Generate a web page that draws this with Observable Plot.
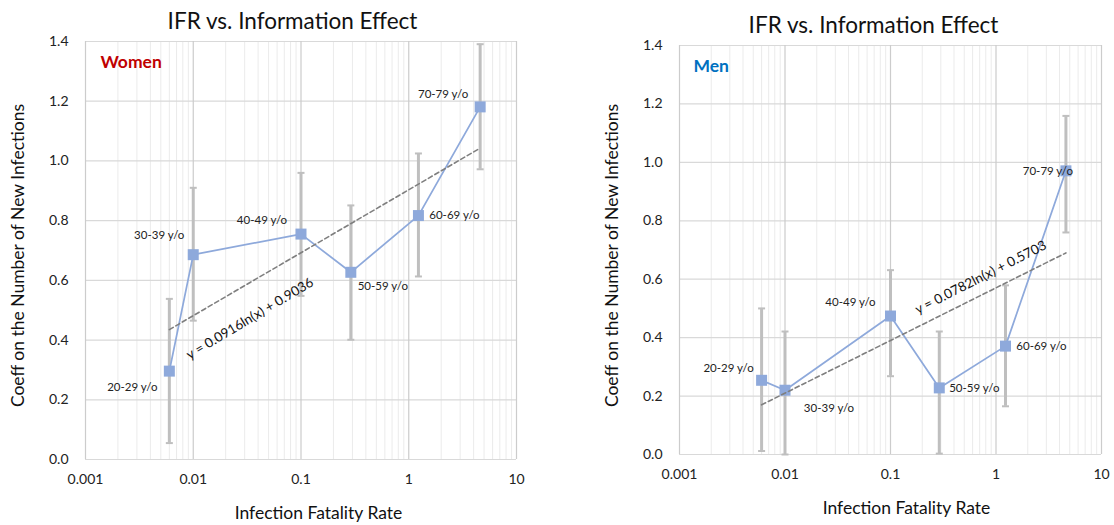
<!DOCTYPE html>
<html>
<head>
<meta charset="utf-8">
<script src="https://cdn.jsdelivr.net/npm/d3@7"></script>
<script src="https://cdn.jsdelivr.net/npm/@observablehq/plot@0.6"></script>
<style>
  body { margin: 0; background: #fff; }
  #wrap { display: flex; width: 1114px; height: 525px; }
  #wrap svg { display: block; }
</style>
</head>
<body>
<div id="wrap"></div>
<script>
// ---------- data ----------
const ageGroups = ["20-29 y/o", "30-39 y/o", "40-49 y/o", "50-59 y/o", "60-69 y/o", "70-79 y/o"];
const ifr = [0.006, 0.01, 0.1, 0.29, 1.23, 4.6];

const womenCoef = [0.296, 0.686, 0.755, 0.627, 0.817, 1.181];
const womenLow  = [0.055, 0.465, 0.548, 0.401, 0.613, 0.972];
const womenHigh = [0.538, 0.910, 0.960, 0.851, 1.025, 1.391];

const menCoef = [0.254, 0.220, 0.474, 0.228, 0.371, 0.971];
const menLow  = [0.012, 0.000, 0.268, 0.003, 0.165, 0.760];
const menHigh = [0.500, 0.421, 0.631, 0.421, 0.579, 1.159];

// trendline values at the first and last IFR
const womenTrend = [0.435, 1.043];
const menTrend = [0.170, 0.690];
const womenEquation = "y = 0.0916ln(x) + 0.9036";
const menEquation = "y = 0.0782ln(x) + 0.5703";

const xTicks = [0.001, 0.01, 0.1, 1, 10];
const yTicks = [0, 0.2, 0.4, 0.6, 0.8, 1.0, 1.2, 1.4];
const chartTitle = "IFR vs. Information Effect";
const xTitle = "Infection Fatality Rate";
const yTitle = "Coeff on the Number of New Infections";

// ---------- rendering ----------
const FONT = "Lato, 'Open Sans', sans-serif";
const seriesColor = "#8EA9DB";
const errColor = "#BFBFBF";
const minorTicks = xTicks.slice(0, -1).flatMap(d => d3.range(2, 10).map(m => +(m * d).toPrecision(3)));

const capSymbol = {
  draw(ctx, size) {
    const w = Math.sqrt(size) / 2;
    ctx.moveTo(-w, 0);
    ctx.lineTo(w, 0);
  }
};

function makeChart(cfg) {
  const rows = ageGroups.map((g, i) => ({
    group: g, x: ifr[i], coef: cfg.coef[i], low: cfg.low[i], high: cfg.high[i]
  }));
  const trendRows = [
    {x: ifr[0], y: cfg.trend[0]},
    {x: ifr[ifr.length - 1], y: cfg.trend[1]}
  ];
  const t = cfg.eqT;
  const eqRow = [{
    x: Math.exp(Math.log(ifr[0]) + t * (Math.log(ifr[ifr.length - 1]) - Math.log(ifr[0]))),
    y: cfg.trend[0] + t * (cfg.trend[1] - cfg.trend[0]),
    text: cfg.equation
  }];

  const labelMarks = rows.map((r, i) => Plot.text([r], {
    x: "x", y: "coef", text: "group",
    dx: cfg.labelOffsets[i][0], dy: cfg.labelOffsets[i][1],
    fontSize: 11.5, fill: "#222", textAnchor: "middle"
  }));

  return Plot.plot({
    width: cfg.width,
    height: 525,
    marginLeft: cfg.ml, marginRight: cfg.mr, marginTop: cfg.mt, marginBottom: cfg.mb,
    style: {fontFamily: FONT, background: "#fff", overflow: "visible"},
    x: {type: "log", domain: [0.001, 10]},
    y: {domain: [0, 1.4]},
    marks: [
      Plot.gridX(minorTicks, {stroke: "#ebebeb", strokeOpacity: 1, strokeWidth: 1}),
      Plot.gridY(yTicks, {stroke: "#d9d9d9", strokeOpacity: 1, strokeWidth: 1.2}),
      Plot.gridX(xTicks, {stroke: "#cccccc", strokeOpacity: 1, strokeWidth: 1.2}),
      Plot.axisX(xTicks, {tickSize: 0, tickPadding: 15, tickFormat: d => String(d), fontSize: 14, fill: "#222", label: null}),
      Plot.axisY(yTicks, {tickSize: 0, tickPadding: 17, tickFormat: d3.format(".1f"), fontSize: 14, fill: "#222", label: null}),
      Plot.ruleX(rows, {x: "x", y1: "low", y2: "high", stroke: errColor, strokeWidth: 3}),
      Plot.dot(rows, {x: "x", y: "high", symbol: capSymbol, r: 3.95, stroke: errColor, strokeWidth: 2}),
      Plot.dot(rows, {x: "x", y: "low", symbol: capSymbol, r: 3.95, stroke: errColor, strokeWidth: 2}),
      Plot.line(rows, {x: "x", y: "coef", stroke: seriesColor, strokeWidth: 1.75}),
      Plot.dot(rows, {x: "x", y: "coef", symbol: "square", r: 6.2, fill: seriesColor, stroke: "none"}),
      Plot.line(trendRows, {x: "x", y: "y", stroke: "#7f7f7f", strokeWidth: 1.6, strokeDasharray: "4.5,3"}),
      Plot.text(eqRow, {x: "x", y: "y", text: "text", rotate: cfg.eqRotate, dy: cfg.eqDy, fontSize: 13.5, fill: "#111", textAnchor: "middle"}),
      ...labelMarks,
      Plot.text([chartTitle], {frameAnchor: "top-left", dx: cfg.titleDx, dy: -20, fontSize: 22.5, fill: "#111", textAnchor: "middle", lineAnchor: "middle"}),
      Plot.text([cfg.sexLabel], {frameAnchor: "top-left", dx: cfg.sexDx, dy: cfg.sexDy, fontSize: 17.5, fontWeight: "bold", fill: cfg.sexColor, textAnchor: "start", lineAnchor: "middle"}),
      Plot.text([yTitle], {frameAnchor: "top-left", dx: cfg.yTitleDx, dy: cfg.yTitleDy, rotate: -90, fontSize: 17.5, fill: "#111", textAnchor: "middle", lineAnchor: "middle"}),
      Plot.text([xTitle], {frameAnchor: "top-left", dx: cfg.xTitleDx, dy: cfg.xTitleDy, fontSize: 17.5, fill: "#111", textAnchor: "middle", lineAnchor: "middle"})
    ]
  });
}

const wrap = document.getElementById("wrap");

wrap.appendChild(makeChart({
  coef: womenCoef, low: womenLow, high: womenHigh, trend: womenTrend, equation: womenEquation,
  sexLabel: "Women", sexColor: "#C00000",
  width: 560, ml: 85, mr: 44, mt: 41, mb: 66,
  eqT: 0.259, eqDy: 36, eqRotate: -31,
  labelOffsets: [[-37, 16], [-34, -19], [-39, -14], [32, 14], [36, 0], [-37, -13]],
  titleDx: 207, sexDx: 15, sexDy: 21,
  yTitleDx: -67, yTitleDy: 214, xTitleDx: 233, xTitleDy: 472
}));

wrap.appendChild(makeChart({
  coef: menCoef, low: menLow, high: menHigh, trend: menTrend, equation: menEquation,
  sexLabel: "Men", sexColor: "#0070C0",
  width: 554, ml: 119, mr: 13, mt: 45, mb: 71,
  eqT: 0.72, eqDy: -18, eqRotate: -27,
  labelOffsets: [[-33, -12], [44, 18], [-40, -14], [35, 0], [36, 0], [-18, 0]],
  titleDx: 194, sexDx: 14, sexDy: 21,
  yTitleDx: -67, yTitleDy: 210, xTitleDx: 227, xTitleDy: 463
}));
</script>
</body>
</html>
